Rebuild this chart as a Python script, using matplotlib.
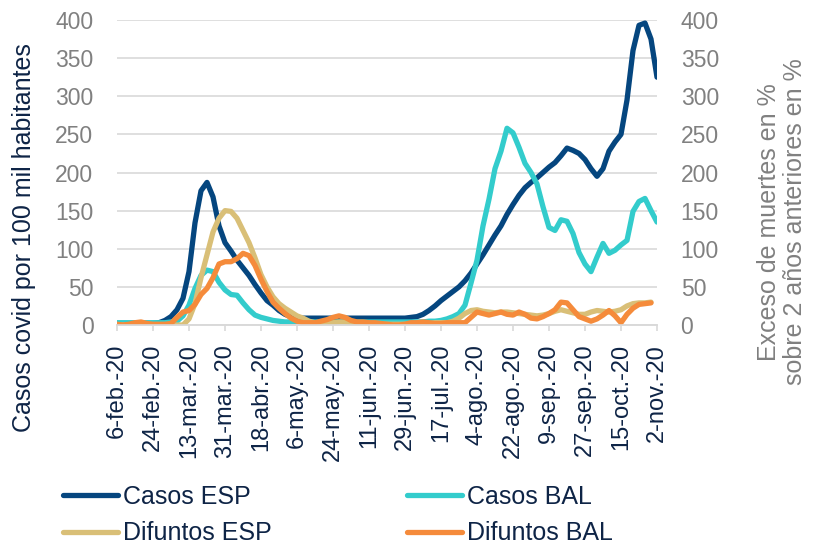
import pandas as pd
import matplotlib.pyplot as plt
from matplotlib import font_manager

# every third day from 6-feb-2020 to 2-nov-2020
dates = pd.date_range("2020-02-06", "2020-11-02", freq="3D")

casos_esp = [2, 2, 2, 2, 2, 2, 2, 3, 6, 11,
             20, 35, 70, 134, 176, 187, 168, 130, 108, 97,
             85, 75, 65, 53, 42, 32, 26, 19, 14, 11,
             10, 9, 9, 9, 9, 9, 9, 9, 9, 9,
             9, 9, 9, 9, 9, 9, 9, 9, 9, 10,
             11, 14, 19, 25, 32, 38, 44, 50, 58, 68,
             80, 92, 105, 118, 130, 145, 158, 170, 180, 187,
             193, 200, 207, 213, 222, 232, 229, 225, 217, 205,
             195, 205, 228, 240, 250, 295, 360, 393, 396, 375,
             325]

casos_bal = [3, 3, 3, 3, 3, 3, 3, 3, 3, 4,
             5, 12, 26, 48, 65, 72, 70, 56, 46, 40,
             39, 29, 20, 13, 10, 8, 6, 5, 4, 4,
             4, 4, 4, 4, 4, 4, 4, 4, 4, 4,
             4, 4, 4, 4, 4, 4, 4, 4, 4, 4,
             4, 4, 5, 5, 6, 8, 11, 15, 26, 55,
             85, 130, 165, 205, 228, 258, 252, 233, 212, 200,
             185, 155, 128, 124, 138, 136, 120, 95, 80, 70,
             89, 107, 94, 98, 105, 111, 149, 162, 166, 150,
             135]

difuntos_esp = [0, 0, 0, 0, 0, 0, 0, 0, 0, 0,
                0, 0, 8, 28, 62, 92, 122, 140, 150, 149,
                140, 124, 108, 88, 66, 50, 37, 28, 22, 17,
                12, 9, 5, 3, 2, 2, 3, 4, 4, 3,
                2, 1, 1, 1, 1, 1, 1, 1, 1, 1,
                1, 2, 2, 3, 3, 3, 5, 9, 15, 19,
                20, 18, 17, 16, 17, 17, 16, 15, 14, 13,
                12, 13, 15, 18, 20, 18, 16, 14, 14, 17,
                19, 18, 17, 18, 20, 25, 28, 29, 29, 30]

difuntos_bal = [1, 0, 1, 3, 4, 2, 1, 1, 1, 2,
                10, 17, 19, 27, 40, 48, 62, 80, 83, 83,
                87, 94, 91, 78, 60, 44, 30, 22, 15, 9,
                5, 3, 3, 3, 5, 7, 10, 12, 10, 6,
                4, 4, 3, 3, 2, 1, 0, 0, 1, 3,
                3, 4, 3, 2, 2, 3, 3, 3, 3, 10,
                17, 15, 13, 15, 17, 14, 13, 17, 14, 9,
                8, 11, 15, 20, 30, 29, 20, 11, 8, 5,
                8, 13, 19, 12, 3, 14, 22, 27, 28, 29]

tick_dates = ["2020-02-06", "2020-02-24", "2020-03-13", "2020-03-31",
              "2020-04-18", "2020-05-06", "2020-05-24", "2020-06-11",
              "2020-06-29", "2020-07-17", "2020-08-04", "2020-08-22",
              "2020-09-09", "2020-09-27", "2020-10-15", "2020-11-02"]
tick_labels = ["6-feb.-20", "24-feb.-20", "13-mar.-20", "31-mar.-20",
               "18-abr.-20", "6-may.-20", "24-may.-20", "11-jun.-20",
               "29-jun.-20", "17-jul.-20", "4-ago.-20", "22-ago.-20",
               "9-sep.-20", "27-sep.-20", "15-oct.-20", "2-nov.-20"]
y_ticks = [0, 50, 100, 150, 200, 250, 300, 350, 400]

navy = "#0e2446"
grey = "#808080"
light = "#d9d9d9"

plt.rcParams["font.family"] = "Liberation Sans"
names = {f.name for f in font_manager.fontManager.ttflist}
if "Liberation Sans Narrow" in names:
    ytick_font = dict(family="Liberation Sans Narrow", size=20)
else:
    ytick_font = dict(family="Liberation Sans", size=16.5)

fig = plt.figure(figsize=(8.13, 5.46), dpi=100)
ax = fig.add_axes([117 / 813, 1 - 325 / 546, 540 / 813, 305 / 546])
ax2 = ax.twinx()

lw = 3.8
l1, = ax.plot(dates, casos_esp, color="#05467f", lw=lw, solid_capstyle="round")
l2, = ax.plot(dates, casos_bal, color="#33cccc", lw=lw, solid_capstyle="round")
l3, = ax2.plot(dates[:len(difuntos_esp)], difuntos_esp, color="#d9bf77", lw=lw,
               solid_capstyle="round")
l4, = ax2.plot(dates[:len(difuntos_bal)], difuntos_bal, color="#f58b3b", lw=lw,
               solid_capstyle="round")

for a in (ax, ax2):
    a.set_ylim(0, 400)
    a.set_yticks(y_ticks)
    for s in ("top", "left", "right"):
        a.spines[s].set_visible(False)
    a.spines["bottom"].set_color(light)
    a.spines["bottom"].set_linewidth(1.2)
    a.tick_params(axis="y", length=0, pad=17, labelcolor=grey)
    for t in a.get_yticklabels():
        t.set_fontfamily(ytick_font["family"])
        t.set_fontsize(ytick_font["size"])

ax.yaxis.grid(True, color=light, lw=1.2)
ax.set_axisbelow(True)

ax.set_xlim(pd.Timestamp("2020-02-06"), pd.Timestamp("2020-11-02"))
ax.set_xticks(pd.to_datetime(tick_dates))
ax.set_xticklabels(tick_labels, rotation=90, color=navy, fontsize=17)
ax.tick_params(axis="x", length=4.5, width=1.2, color=light, pad=9)

fig.text(24 / 813, 1 - 238 / 546, "Casos covid por 100 mil habitantes",
         rotation=90, ha="center", va="center", color=navy, fontsize=18)
fig.text(782 / 813, 1 - 222 / 546,
         "Exceso de muertes en %\nsobre 2 años anteriores en %",
         rotation=90, ha="center", va="center", multialignment="center",
         color=grey, fontsize=18, linespacing=1.15)

fig.legend([l1, l3, l2, l4],
           ["Casos ESP", "Difuntos ESP", "Casos BAL", "Difuntos BAL"],
           ncol=2, loc="upper left", bbox_to_anchor=(63 / 813, 1 - 485 / 546),
           frameon=False, fontsize=18, handlelength=2.2, handletextpad=0.2,
           columnspacing=5.4, labelspacing=0.5, borderpad=0, borderaxespad=0,
           labelcolor=navy)

fig.savefig("out.png", dpi=100)
